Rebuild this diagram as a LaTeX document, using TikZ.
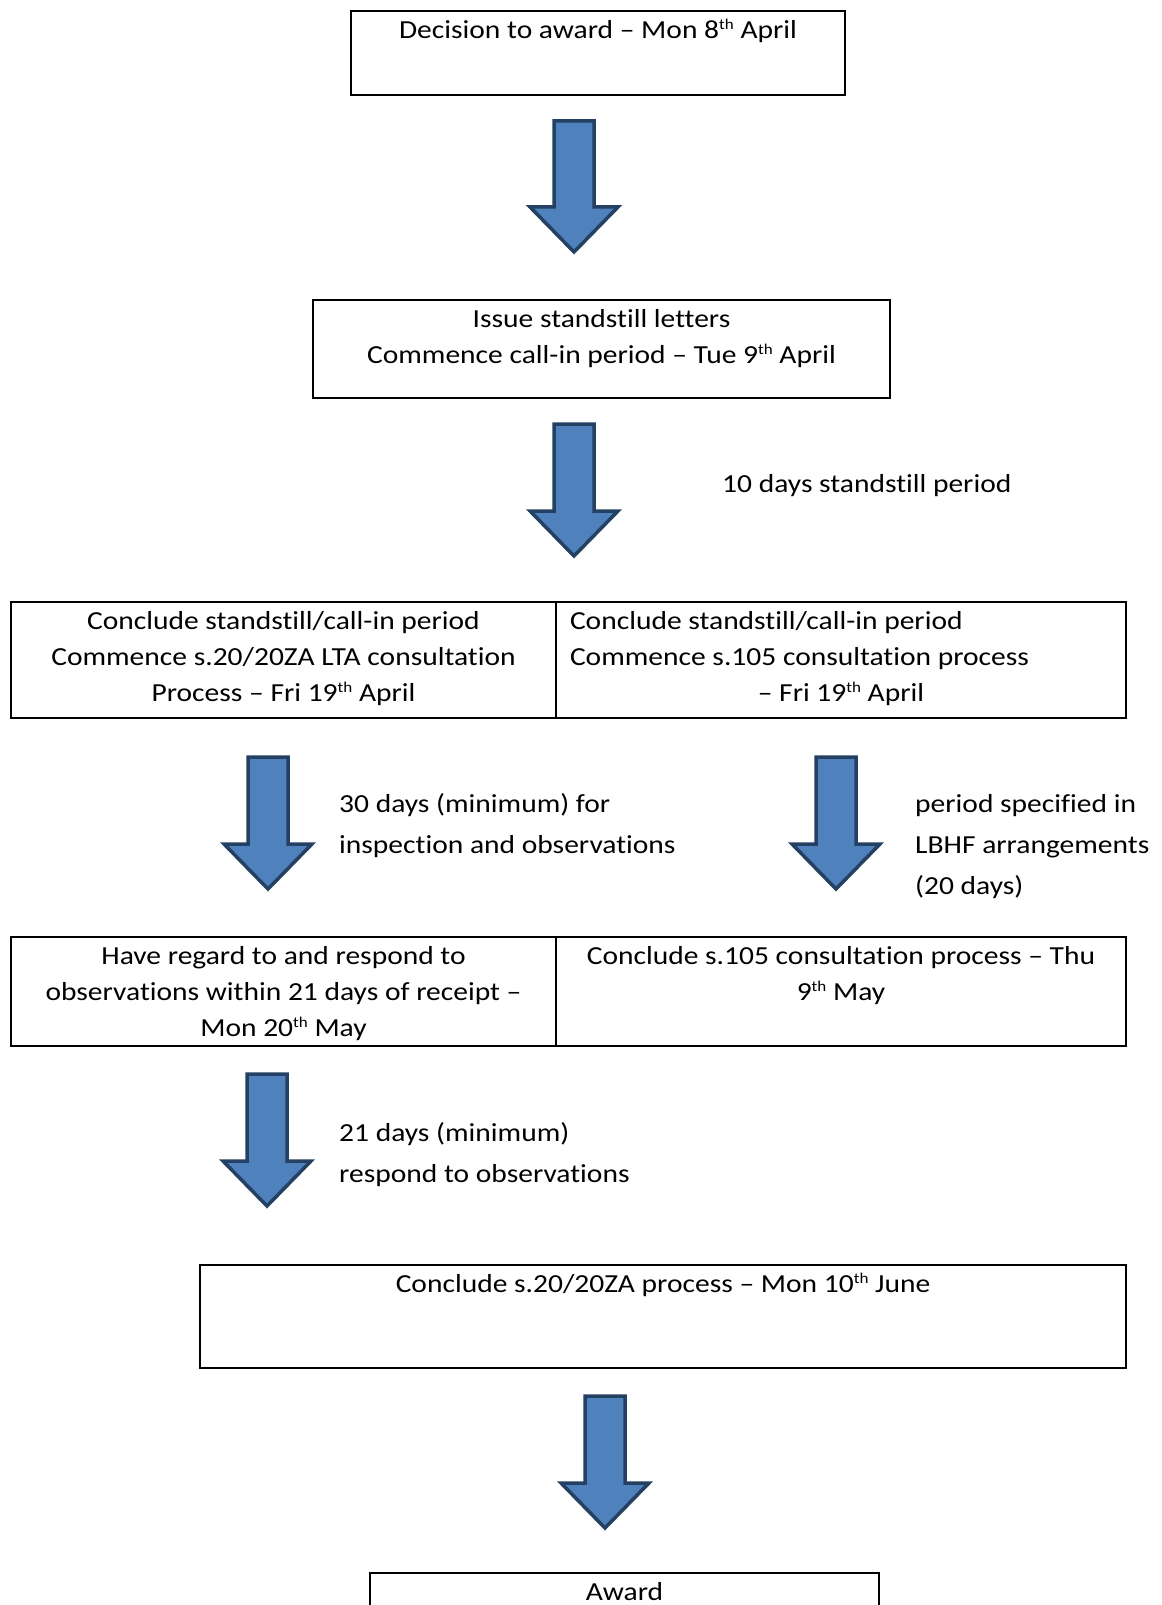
\documentclass[tikz,border=0pt]{standalone}
\usepackage{fontspec}
\setmainfont{Carlito}[FakeStretch=1.135, Ligatures={TeX,NoCommon}]
\usetikzlibrary{positioning,calc}

\definecolor{arrowfill}{RGB}{79,129,189}
\definecolor{arrowline}{RGB}{36,64,98}

% text of a box, set from its top edge
\newcommand{\boxcell}[3]{\parbox[c][#2pt][t]{#1pt}{\vspace*{2pt}\centering\strut #3\par}}
% block arrow from its top centre to its tip
\newcommand{\blockarrow}[2]{%
  \draw[bigarrow] ($(#1)+(-20,0)$) -- ($(#1)+(20,0)$) -- ($(#2)+(20,-45)$) -- ($(#2)+(44,-45)$)
    -- (#2) -- ($(#2)+(-44,-45)$) -- ($(#2)+(-20,-45)$) -- cycle;}
\newcommand{\sups}[1]{\raisebox{9pt}{\fontsize{15pt}{15pt}\selectfont #1}}

\begin{document}
\begin{tikzpicture}[
  x=1pt, y=-1pt,
  font=\fontsize{26pt}{36pt}\selectfont,
  stepbox/.style={draw, line width=2pt, inner sep=0pt, outer sep=0pt, anchor=north west},
  leftcell/.style={stepbox, inner xsep=14pt},
  note/.style={align=left, inner sep=0pt, anchor=north west, font=\fontsize{26pt}{41pt}\selectfont},
  bigarrow/.style={fill=arrowfill, draw=arrowline, line width=3.5pt, line join=miter}
]
\useasboundingbox (0,0) rectangle (1161,1605);
\clip (0,0) rectangle (1161,1605);

\node[stepbox] (decide) at (351,11) {\boxcell{494}{84}{Decision to award -- Mon 8\sups{th} April}};
\node[stepbox] (standstill) at (313,300) {\boxcell{577}{98}{Issue standstill letters\\Commence call-in period -- Tue 9\sups{th} April}};

\node[stepbox] (concllta) at (11,602) {\boxcell{545}{116}{Conclude standstill/call-in period\\Commence s.20/20ZA LTA consultation\\Process -- Fri 19\sups{th} April}};
\node[leftcell, right=0pt of concllta.north east, anchor=north west] (conclsec) {\boxcell{542}{116}{{\raggedright Conclude standstill/call-in period\\Commence s.105 consultation process\par}-- Fri 19\sups{th} April}};

\node[stepbox] (regard) at (11,937) {\boxcell{545}{109}{Have regard to and respond to\\observations within 21 days of receipt --\\Mon 20\sups{th} May}};
\node[leftcell, right=0pt of regard.north east, anchor=north west] (endsec) {\boxcell{542}{109}{Conclude s.105 consultation process -- Thu\\9\sups{th} May}};

\node[stepbox] (endlta) at (200,1265) {\boxcell{926}{103}{Conclude s.20/20ZA process -- Mon 10\sups{th} June}};
\node[stepbox] (award) at (370,1573) {\boxcell{509}{80}{Award}};

% arrows
\coordinate (t1) at (574,121);  \coordinate (p1) at (574,252);
\coordinate (t2) at (574,424);  \coordinate (p2) at (574,556);
\coordinate (t3) at (268,757);  \coordinate (p3) at (268,889);
\coordinate (t4) at (836,757);  \coordinate (p4) at (836,889);
\coordinate (t5) at (267,1074); \coordinate (p5) at (267,1206);
\coordinate (t6) at (605,1396); \coordinate (p6) at (605,1528);
\foreach \i in {1,...,6} {\blockarrow{t\i}{p\i}}

\node[note] (tenday) at (722,464) {\strut 10 days standstill period};
\node[note] (thirtyday) at (339,784) {\strut 30 days (minimum) for\\inspection and observations};
\node[note] (lbhf) at (915,784) {\strut period specified in\\LBHF arrangements\\(20 days)};
\node[note] (twentyone) at (339,1113) {\strut 21 days (minimum)\\respond to observations};

\end{tikzpicture}
\end{document}
